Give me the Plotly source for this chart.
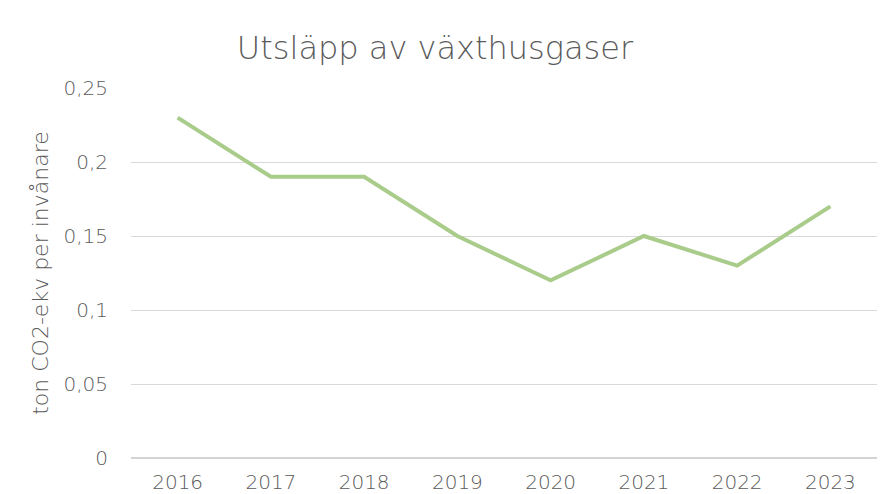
import plotly.graph_objects as go

years = ["2016", "2017", "2018", "2019", "2020", "2021", "2022", "2023"]
values = [0.23, 0.19, 0.19, 0.15, 0.12, 0.15, 0.13, 0.17]
y_ticks = [0, 0.05, 0.1, 0.15, 0.2, 0.25]
y_tick_labels = ["0", "0,05", "0,1", "0,15", "0,2", "0,25"]

fig = go.Figure()
fig.add_trace(go.Scatter(
    x=years, y=values, mode="lines",
    line=dict(color="#a9cc8b", width=4),
    hoverinfo="x+y",
))

font_family = "'DejaVu Sans', sans-serif"
text_color = "#5a5a5a"
fig.update_layout(
    width=878, height=486,
    margin=dict(l=123, r=9, t=80, b=36),
    paper_bgcolor="white", plot_bgcolor="white",
    showlegend=False,
    title=dict(text="Utsläpp av växthusgaser", x=0.4863, xref="container",
               xanchor="center", y=0.9177, yref="container", yanchor="middle",
               font=dict(family=font_family, size=32, color=text_color, weight=200)),
    font=dict(family=font_family, color=text_color, weight=200),
)
fig.update_xaxes(type="category", range=[-0.5, 7.5], showgrid=False, zeroline=False,
                 showline=False, ticks="", automargin=False,
                 tickfont=dict(size=20, color=text_color, weight=200),
                 ticklabelstandoff=10)
fig.update_yaxes(range=[0, 0.25], tickvals=y_ticks, ticktext=y_tick_labels,
                 showgrid=True, gridcolor="#d9d9d9", gridwidth=1,
                 zeroline=True, zerolinecolor="#d4d4d4", zerolinewidth=1.5,
                 showline=False, ticks="", automargin=False,
                 tickfont=dict(size=20, color=text_color, weight=200),
                 ticklabelstandoff=22,
                 title=dict(text="ton CO2-ekv per invånare", standoff=8,
                            font=dict(size=22, color=text_color, weight=200)))

fig.write_html("out.html")
